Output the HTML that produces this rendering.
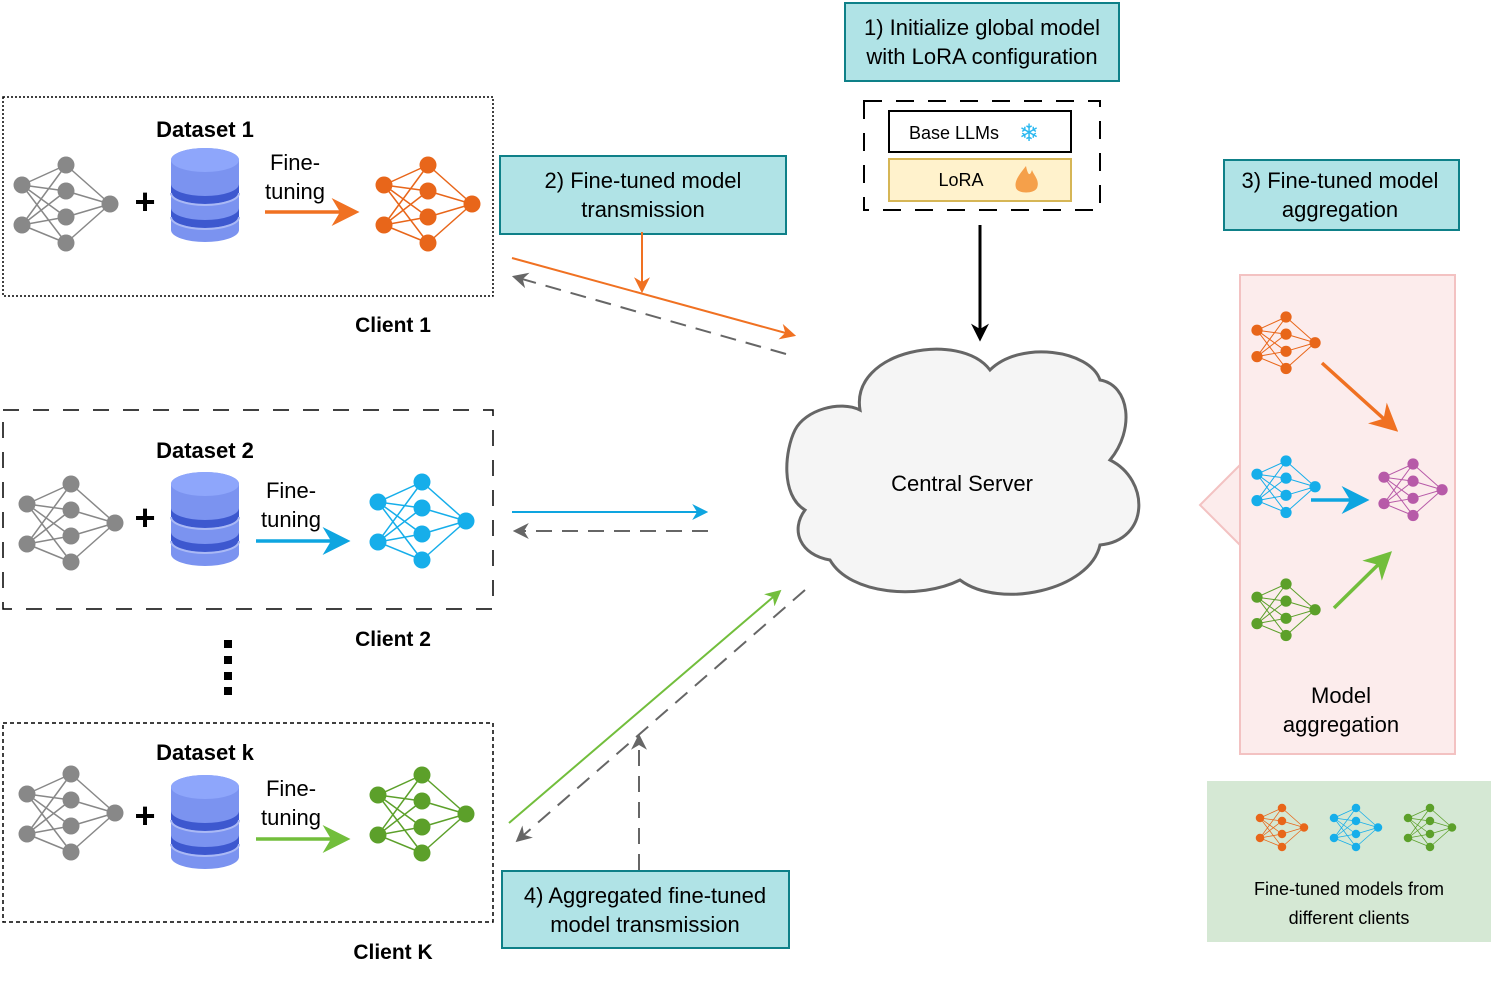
<!DOCTYPE html>
<html><head><meta charset="utf-8"><style>
body{margin:0;background:#fff}
svg{display:block;font-family:"Liberation Sans",Arial,sans-serif}
</style></head><body>
<svg width="1494" height="990" viewBox="0 0 1494 990" xmlns="http://www.w3.org/2000/svg">
<defs>
<g id="netlines">
<path d="M0 20L44 0M0 20L44 26M0 20L44 52M0 20L44 78M0 60L44 0M0 60L44 26M0 60L44 52M0 60L44 78M44 0L88 39M44 26L88 39M44 52L88 39M44 78L88 39" fill="none" stroke-width="1.5"/>
</g>
<g id="netnodes">
<circle cx="0" cy="20" r="8.5"/><circle cx="0" cy="60" r="8.5"/>
<circle cx="44" cy="0" r="8.5"/><circle cx="44" cy="26" r="8.5"/><circle cx="44" cy="52" r="8.5"/><circle cx="44" cy="78" r="8.5"/>
<circle cx="88" cy="39" r="8.5"/>
</g>
<g id="db">
<path d="M0 12 A34 12 0 0 1 68 12 V82 A34 12 0 0 1 0 82 Z" fill="#7b93f0"/>
<ellipse cx="34" cy="12" rx="34" ry="12" fill="#8ea6fb"/>
<path d="M0 36 A34 12 0 0 0 68 36 V44 A34 12 0 0 1 0 44 Z" fill="#3d58cf"/>
<path d="M0 60 A34 12 0 0 0 68 60 V68 A34 12 0 0 1 0 68 Z" fill="#3d58cf"/>
<path d="M0 45 A34 12 0 0 0 68 45" fill="none" stroke="#aab9f5" stroke-width="2"/>
<path d="M0 69 A34 12 0 0 0 68 69" fill="none" stroke="#aab9f5" stroke-width="2"/>
</g>
<marker id="ao" viewBox="0 0 10 10" refX="8" refY="5" markerWidth="8" markerHeight="8" orient="auto"><path d="M0 0L10 5L0 10L3 5Z" fill="#f07122"/></marker>
<marker id="ab" viewBox="0 0 10 10" refX="8" refY="5" markerWidth="8" markerHeight="8" orient="auto"><path d="M0 0L10 5L0 10L3 5Z" fill="#0ea5e0"/></marker>
<marker id="ag" viewBox="0 0 10 10" refX="8" refY="5" markerWidth="8" markerHeight="8" orient="auto"><path d="M0 0L10 5L0 10L3 5Z" fill="#72be3c"/></marker>
<marker id="ad" viewBox="0 0 10 10" refX="8" refY="5" markerWidth="8" markerHeight="8" orient="auto"><path d="M0 0L10 5L0 10L3 5Z" fill="#666"/></marker>
<marker id="ak" viewBox="0 0 10 10" refX="8" refY="5" markerWidth="6" markerHeight="6" orient="auto"><path d="M0 0L10 5L0 10L3 5Z" fill="#000"/></marker>
</defs>

<rect x="3" y="97" width="490" height="199" fill="none" stroke="#000" stroke-width="1.5" stroke-dasharray="2 2"/>
<rect x="3" y="410" width="490" height="199" fill="none" stroke="#000" stroke-width="1.5" stroke-dasharray="16 14"/>
<rect x="3" y="723" width="490" height="199" fill="none" stroke="#000" stroke-width="1.5" stroke-dasharray="4 3"/>

<g font-weight="bold" font-size="21" text-anchor="middle">
<text x="205" y="137" font-size="22">Dataset 1</text>
<text x="205" y="458" font-size="22">Dataset 2</text>
<text x="205" y="760" font-size="22">Dataset k</text>
<text x="393" y="332">Client 1</text>
<text x="393" y="646">Client 2</text>
<text x="393" y="959">Client K</text>
</g>

<g transform="translate(22,165)" stroke="#888" fill="#888"><use href="#netlines"/><use href="#netnodes" stroke="none"/></g>
<text x="145" y="214" font-size="36" font-weight="bold" text-anchor="middle">+</text>
<use href="#db" transform="translate(171,148)"/>
<text x="295" y="170" font-size="22" text-anchor="middle">Fine-</text>
<text x="295" y="199" font-size="22" text-anchor="middle">tuning</text>
<line x1="265" y1="212" x2="354" y2="212" stroke="#f07122" stroke-width="3.5" marker-end="url(#ao)"/>
<g transform="translate(384,165)" stroke="#e8661a" fill="#e8661a"><use href="#netlines"/><use href="#netnodes" stroke="none"/></g>

<g transform="translate(27,484)" stroke="#888" fill="#888"><use href="#netlines"/><use href="#netnodes" stroke="none"/></g>
<text x="145" y="530" font-size="36" font-weight="bold" text-anchor="middle">+</text>
<use href="#db" transform="translate(171,472)"/>
<text x="291" y="498" font-size="22" text-anchor="middle">Fine-</text>
<text x="291" y="527" font-size="22" text-anchor="middle">tuning</text>
<line x1="256" y1="541" x2="345" y2="541" stroke="#0ea5e0" stroke-width="3.5" marker-end="url(#ab)"/>
<g transform="translate(378,482)" stroke="#16aeea" fill="#16aeea"><use href="#netlines"/><use href="#netnodes" stroke="none"/></g>

<rect x="224" y="640" width="8" height="8"/><rect x="224" y="656" width="8" height="8"/><rect x="224" y="672" width="8" height="8"/><rect x="224" y="687" width="8" height="8"/>

<g transform="translate(27,774)" stroke="#888" fill="#888"><use href="#netlines"/><use href="#netnodes" stroke="none"/></g>
<text x="145" y="828" font-size="36" font-weight="bold" text-anchor="middle">+</text>
<use href="#db" transform="translate(171,775)"/>
<text x="291" y="796" font-size="22" text-anchor="middle">Fine-</text>
<text x="291" y="825" font-size="22" text-anchor="middle">tuning</text>
<line x1="256" y1="839" x2="345" y2="839" stroke="#72be3c" stroke-width="3.5" marker-end="url(#ag)"/>
<g transform="translate(378,775)" stroke="#5ca02a" fill="#5ca02a"><use href="#netlines"/><use href="#netnodes" stroke="none"/></g>

<rect x="845" y="3" width="274" height="78" fill="#b0e3e6" stroke="#0e8088" stroke-width="2"/>
<text x="982" y="35" font-size="22" text-anchor="middle">1) Initialize global model</text>
<text x="982" y="64" font-size="22" text-anchor="middle">with LoRA configuration</text>
<rect x="500" y="156" width="286" height="78" fill="#b0e3e6" stroke="#0e8088" stroke-width="2"/>
<text x="643" y="188" font-size="22" text-anchor="middle">2) Fine-tuned model</text>
<text x="643" y="217" font-size="22" text-anchor="middle">transmission</text>
<rect x="1224" y="160" width="235" height="70" fill="#b0e3e6" stroke="#0e8088" stroke-width="2"/>
<text x="1340" y="188" font-size="22" text-anchor="middle">3) Fine-tuned model</text>
<text x="1340" y="217" font-size="22" text-anchor="middle">aggregation</text>
<rect x="502" y="871" width="287" height="77" fill="#b0e3e6" stroke="#0e8088" stroke-width="2"/>
<text x="645" y="903" font-size="22" text-anchor="middle">4) Aggregated fine-tuned</text>
<text x="645" y="932" font-size="22" text-anchor="middle">model transmission</text>

<rect x="864" y="101" width="236" height="109" fill="none" stroke="#000" stroke-width="2" stroke-dasharray="18 14"/>
<rect x="889" y="111" width="182" height="41" fill="#fff" stroke="#000" stroke-width="2"/>
<text x="954" y="139" font-size="18" text-anchor="middle">Base LLMs</text>
<text x="1029" y="141" font-size="24" text-anchor="middle" fill="#2ab8f0">❄</text>
<rect x="889" y="159" width="182" height="42" fill="#fff2cc" stroke="#d6b656" stroke-width="2"/>
<text x="961" y="186" font-size="18" text-anchor="middle">LoRA</text>
<path d="M1026 166 C1018 176 1014 182 1016 188 C1018 194 1034 194 1037 188 C1040 180 1034 176 1032 170 C1030 176 1028 176 1026 166Z" fill="#f5a04a"/>
<line x1="980" y1="225" x2="980" y2="338" stroke="#000" stroke-width="3" marker-end="url(#ak)"/>

<path d="M860 410 C850 350 960 330 990 370 C1020 340 1090 350 1100 380 C1130 385 1135 430 1110 460 C1150 480 1150 540 1100 545 C1090 590 1000 610 960 580 C920 600 850 595 830 560 C800 555 790 530 805 510 C780 495 785 450 795 430 C805 410 840 400 860 410Z" fill="#f5f5f5" stroke="#666" stroke-width="3"/>
<text x="962" y="491" font-size="22" text-anchor="middle">Central Server</text>

<line x1="512" y1="258" x2="793" y2="335" stroke="#f07122" stroke-width="2" marker-end="url(#ao)"/>
<line x1="786" y1="354" x2="515" y2="277" stroke="#666" stroke-width="2" stroke-dasharray="16 10" marker-end="url(#ad)"/>
<line x1="642" y1="232" x2="642" y2="290" stroke="#f07122" stroke-width="2" marker-end="url(#ao)"/>
<line x1="512" y1="512" x2="705" y2="512" stroke="#0ea5e0" stroke-width="2" marker-end="url(#ab)"/>
<line x1="708" y1="531" x2="516" y2="531" stroke="#666" stroke-width="2" stroke-dasharray="16 10" marker-end="url(#ad)"/>
<line x1="509" y1="823" x2="779" y2="592" stroke="#72be3c" stroke-width="2" marker-end="url(#ag)"/>
<line x1="805" y1="590" x2="518" y2="840" stroke="#666" stroke-width="2" stroke-dasharray="16 10" marker-end="url(#ad)"/>
<line x1="639" y1="870" x2="639" y2="737" stroke="#666" stroke-width="2" stroke-dasharray="16 10" marker-end="url(#ad)"/>

<path d="M1240 465 L1200 505 L1240 545" fill="#fcecec" stroke="#f3c2c2" stroke-width="2"/>
<rect x="1240" y="275" width="215" height="479" fill="#fcecec" stroke="#f3c2c2" stroke-width="2"/>
<g transform="translate(1257,317) scale(0.66)" stroke="#e8661a" fill="#e8661a"><use href="#netlines"/><use href="#netnodes" stroke="none"/></g>
<g transform="translate(1257,461) scale(0.66)" stroke="#16aeea" fill="#16aeea"><use href="#netlines"/><use href="#netnodes" stroke="none"/></g>
<g transform="translate(1257,584) scale(0.66)" stroke="#5ca02a" fill="#5ca02a"><use href="#netlines"/><use href="#netnodes" stroke="none"/></g>
<g transform="translate(1384,464) scale(0.66)" stroke="#b75aa8" fill="#b75aa8"><use href="#netlines"/><use href="#netnodes" stroke="none"/></g>
<line x1="1322" y1="363" x2="1394" y2="428" stroke="#f07122" stroke-width="3.5" marker-end="url(#ao)"/>
<line x1="1311" y1="500" x2="1364" y2="500" stroke="#0ea5e0" stroke-width="3.5" marker-end="url(#ab)"/>
<line x1="1334" y1="608" x2="1388" y2="555" stroke="#72be3c" stroke-width="3.5" marker-end="url(#ag)"/>
<text x="1341" y="703" font-size="22" text-anchor="middle">Model</text>
<text x="1341" y="732" font-size="22" text-anchor="middle">aggregation</text>

<rect x="1207" y="781" width="284" height="161" fill="#d5e8d4"/>
<g transform="translate(1260,808) scale(0.5)" stroke="#e8661a" fill="#e8661a"><use href="#netlines"/><use href="#netnodes" stroke="none"/></g>
<g transform="translate(1334,808) scale(0.5)" stroke="#16aeea" fill="#16aeea"><use href="#netlines"/><use href="#netnodes" stroke="none"/></g>
<g transform="translate(1408,808) scale(0.5)" stroke="#5ca02a" fill="#5ca02a"><use href="#netlines"/><use href="#netnodes" stroke="none"/></g>
<text x="1349" y="895" font-size="18" text-anchor="middle">Fine-tuned models from</text>
<text x="1349" y="924" font-size="18" text-anchor="middle">different clients</text>
</svg>
</body></html>
